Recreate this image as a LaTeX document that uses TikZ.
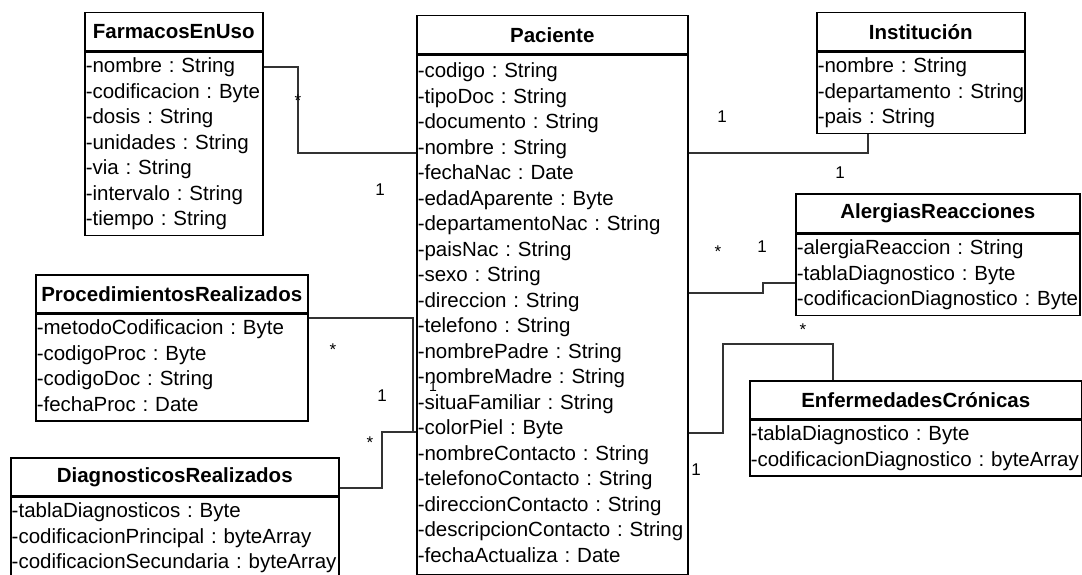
\documentclass[tikz,border=0pt]{standalone}
\usepackage{fontspec}
\setmainfont{Liberation Sans}
\usepackage{xcolor}
\usepackage{tikz}

\frenchspacing
\hyphenpenalty=10000
\exhyphenpenalty=10000
\newcommand{\attrsize}{\fontsize{20.5}{25.5}\selectfont}
\newcommand{\multsize}{\fontsize{17}{20}\selectfont}
\newcommand{\firstrow}{\rule{0pt}{17.4pt}}
\newcommand{\lastrow}{\rule[-7pt]{0pt}{0pt}}

\tikzset{
  clase/.style={draw=black, line width=1.5pt, anchor=north west, inner sep=0pt,
    minimum height=38pt, font=\attrsize\bfseries},
  attrs/.style={draw=black, line width=1.5pt, anchor=north west, align=left,
    inner xsep=1pt, inner ysep=3pt, font=\attrsize,
    execute at begin node=\firstrow, execute at end node=\lastrow},
  assoc/.style={draw=black!80, line width=1.2pt},
  mult/.style={font=\multsize, inner sep=0pt}
}

\begin{document}
\begin{tikzpicture}[x=1pt, y=-1pt]
\clip (0, 0) rectangle (1082, 575);

\node [clase, minimum width=178pt] (farmH) at (84, 12) {FarmacosEnUso};
\node [attrs, text width=176pt] (farm) at (farmH.south west)
  {-nombre : String\\-codificacion : Byte\\-dosis : String\\-unidades : String\\-via : String\\-intervalo : String\\-tiempo : String};

\node [clase, minimum width=271pt] (pacH) at (416, 15) {Paciente};
\node [attrs, text width=269pt, minimum height=519pt] (pac) at (pacH.south west)
  {-codigo : String\\-tipoDoc : String\\-documento : String\\-nombre : String\\-fechaNac : Date\\-edadAparente : Byte\\-departamentoNac : String\\-paisNac : String\\-sexo : String\\-direccion : String\\-telefono : String\\-nombrePadre : String\\-nombreMadre : String\\-situaFamiliar : String\\-colorPiel : Byte\\-nombreContacto : String\\-telefonoContacto : String\\-direccionContacto : String\\-descripcionContacto : String\\-fechaActualiza : Date};

\node [clase, minimum width=208pt] (instH) at (816, 12) {Institución};
\node [attrs, text width=206pt] (inst) at (instH.south west)
  {-nombre : String\\-departamento~:~String\\-pais : String};

\node [clase, minimum width=284pt, minimum height=39pt] (alerH) at (795, 193) {AlergiasReacciones};
\node [attrs, text width=282pt] (aler) at (alerH.south west)
  {-alergiaReaccion : String\\-tablaDiagnostico : Byte\\-codificacionDiagnostico~:~Byte};

\node [clase, minimum width=332pt] (enfH) at (749, 380) {EnfermedadesCrónicas};
\node [attrs, text width=330pt] (enf) at (enfH.south west)
  {-tablaDiagnostico : Byte\\-codificacionDiagnostico~:~byteArray};

\node [clase, minimum width=272pt] (procH) at (35, 274) {ProcedimientosRealizados};
\node [attrs, text width=270pt] (proc) at (procH.south west)
  {-metodoCodificacion : Byte\\-codigoProc : Byte\\-codigoDoc : String\\-fechaProc : Date};

\node [clase, minimum width=328pt] (diagH) at (10, 457) {DiagnosticosRealizados};
\node [attrs, text width=326pt] (diag) at (diagH.south west)
  {-tablaDiagnosticos : Byte\\-codificacionPrincipal : byteArray\\-codificacionSecundaria~:~byteArray};

\draw [assoc] (farm.east |- 0, 67) -| (298, 153) -- (pac.west |- 0, 153);
\draw [assoc] (pac.east |- 0, 153) -| (inst.south -| 868, 0);
\draw [assoc] (pac.east |- 0, 293) -- (763, 293) |- (aler.west |- 0, 283);
\draw [assoc] (pac.east |- 0, 433) -| (723, 344) -| (enfH.north -| 833, 0);
\draw [assoc] (proc.east |- 0, 318) -| (413, 432) -- (pac.west |- 0, 432);
\draw [assoc] (diagH.east |- 0, 488) -| (382, 432) -- (pac.west |- 0, 432);

\node [mult] (mFarm)  at (298, 101) {*};
\node [mult] (mPac1)  at (380, 190) {1};
\node [mult] (mInst)  at (722, 117) {1};
\node [mult] (mPac2)  at (840, 173) {1};
\node [mult] (mAler1) at (718, 252) {*};
\node [mult] (mAler2) at (762, 247) {1};
\node [mult] (mEnf1)  at (803, 330) {*};
\node [mult] (mEnf2)  at (696, 470) {1};
\node [mult] (mProc1) at (333, 350) {*};
\node [mult] (mProc2) at (382, 396) {1};
\node [mult] (mDiag1) at (370, 443) {*};
\node [mult, font=\fontsize{14}{16}\selectfont] (mDiag2) at (433, 387) {1};
\end{tikzpicture}
\end{document}
